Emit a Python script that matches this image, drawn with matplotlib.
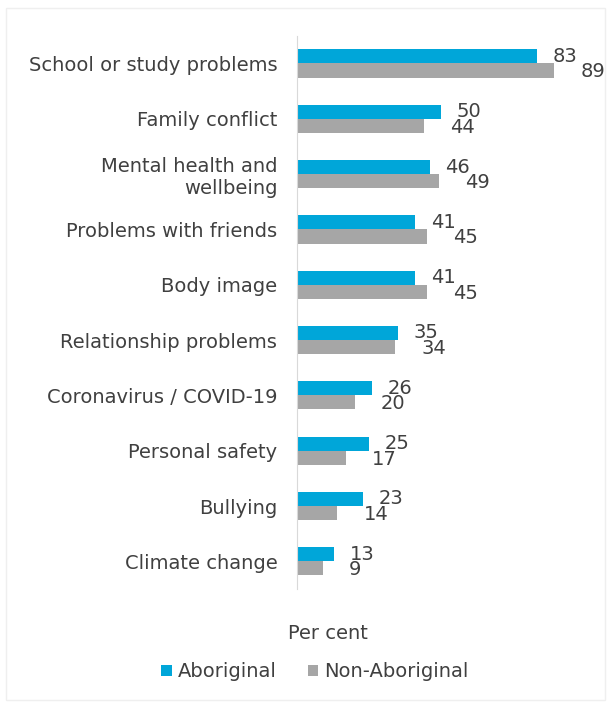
import matplotlib
matplotlib.use("Agg")
import matplotlib.pyplot as plt
import numpy as np
from matplotlib.patches import Rectangle

# datos
categories = ["School or study problems", "Family conflict", "Mental health and\nwellbeing",
              "Problems with friends", "Body image", "Relationship problems",
              "Coronavirus / COVID-19", "Personal safety", "Bullying", "Climate change"]
aboriginal = [83, 50, 46, 41, 41, 35, 26, 25, 23, 13]
non_aboriginal = [89, 44, 49, 45, 45, 34, 20, 17, 14, 9]
series_names = ["Aboriginal", "Non-Aboriginal"]

blue = "#00A6D9"
grey = "#A6A6A6"
txt = "#404040"

plt.rcParams['font.family'] = ['DejaVu Sans']

fig = plt.figure(figsize=(6.08, 7.02), dpi=100)
ax = fig.add_axes([0.488, 0.161, 0.462, 0.788])

y = np.arange(len(categories))
h = 0.255
b1 = ax.barh(y - h / 2, aboriginal, height=h, color=blue, label=series_names[0])
b2 = ax.barh(y + h / 2, non_aboriginal, height=h, color=grey, label=series_names[1])

ax.set_ylim(len(categories) - 0.5, -0.5)
ax.set_xlim(0, 97)
ax.set_yticks(y)
ax.set_yticklabels(categories, fontsize=14, color=txt)
ax.tick_params(axis='y', length=0, pad=14)
ax.set_xticks([])
for s in ["top", "right", "bottom"]:
    ax.spines[s].set_visible(False)
ax.spines["left"].set_color("#D9D9D9")

# etiquetas de valores
for yi, v in zip(y, aboriginal):
    ax.annotate(str(v), (v, yi - h / 2), xytext=(11, 0), textcoords="offset points",
                va="center", ha="left", fontsize=14, color=txt)
for yi, v in zip(y, non_aboriginal):
    ax.annotate(str(v), (v, yi + h / 2), xytext=(19, -1), textcoords="offset points",
                va="center", ha="left", fontsize=14, color=txt)

fig.text(0.54, 0.097, "Per cent", ha="center", va="center", fontsize=14, color=txt)
leg = fig.legend(handles=[b1, b2], loc="center", bbox_to_anchor=(0.518, 0.043), ncol=2,
                 frameon=False, fontsize=14, handlelength=0.55, handleheight=0.55,
                 handletextpad=0.3, columnspacing=1.6)
for t in leg.get_texts():
    t.set_color(txt)

# marco exterior
fig.patches.append(Rectangle((0.01, 0.003), 0.985, 0.985, transform=fig.transFigure,
                             fill=False, edgecolor="#EFEFEF", linewidth=1))

fig.savefig("out.png", dpi=100)
